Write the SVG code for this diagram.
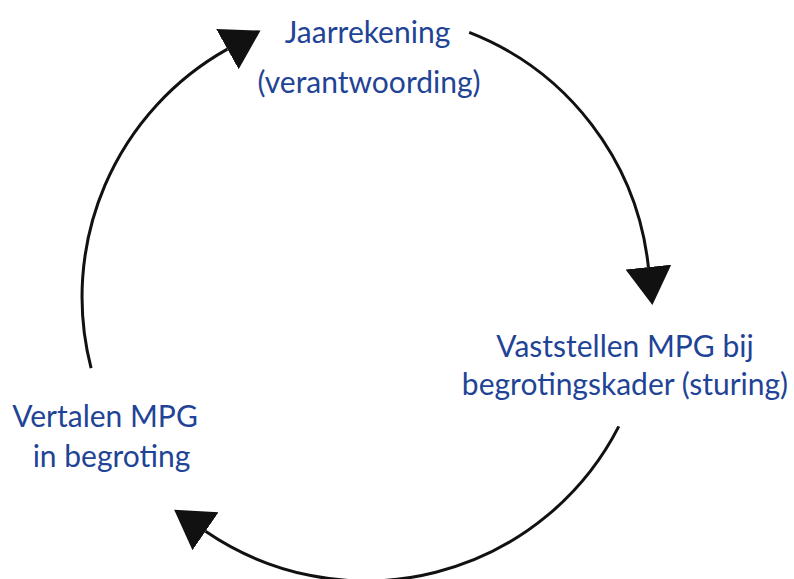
<svg xmlns="http://www.w3.org/2000/svg" width="794" height="579" viewBox="0 0 794 579">
  <style>
    .lbl { font-family: "Lato", "Open Sans", "Liberation Sans", sans-serif; font-size: 30px; fill: #1f4496; text-anchor: middle; }
    .arc { fill: none; stroke: #111111; stroke-width: 3; }
  </style>
  <defs>
    <marker id="head" markerUnits="userSpaceOnUse" markerWidth="40" markerHeight="48" viewBox="0 0 40 48" refX="0" refY="24" orient="auto">
      <path d="M0,1 L38,24 L0,47 Z" fill="#111111"/>
    </marker>
  </defs>
  <rect width="794" height="579" fill="#ffffff"/>
  <g id="connectors">
    <path id="arc-top" class="arc" d="M469.2,32.4 A284,284 0 0 1 648.4,267.1" marker-end="url(#head)"/>
    <path id="arc-bottom" class="arc" d="M618.8,426.4 A284,284 0 0 1 205.5,531.3" marker-end="url(#head)"/>
    <path id="arc-left" class="arc" d="M91.1,368.1 A284,284 0 0 1 227.4,49.1" marker-end="url(#head)"/>
  </g>
  <g id="node-jaarrekening">
    <text class="lbl" x="367.5" y="43">Jaarrekening</text>
    <text class="lbl" x="369" y="93">(verantwoording)</text>
  </g>
  <g id="node-vaststellen">
    <text class="lbl" x="625" y="357">Vaststellen MPG bij</text>
    <text class="lbl" x="625" y="395">begrotingskader (sturing)</text>
  </g>
  <g id="node-vertalen">
    <text class="lbl" x="105" y="427">Vertalen MPG</text>
    <text class="lbl" x="111.5" y="467">in begroting</text>
  </g>
</svg>
